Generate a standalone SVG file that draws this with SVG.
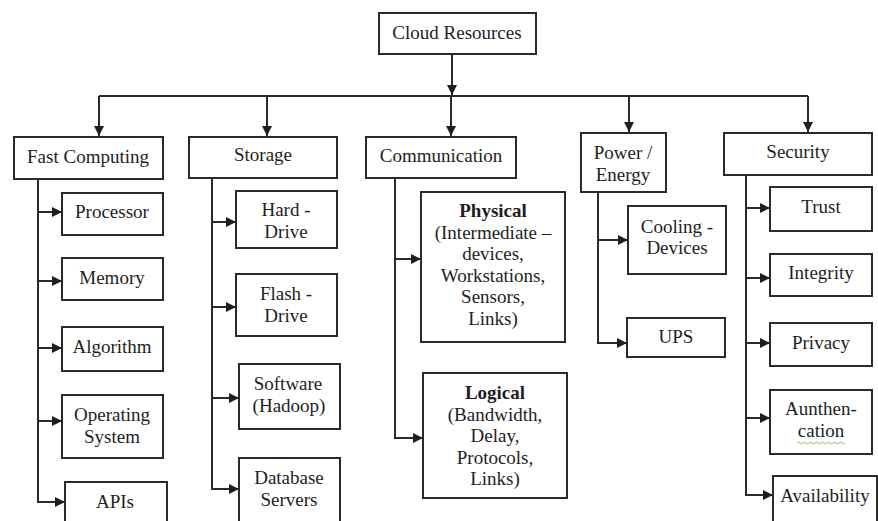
<svg xmlns="http://www.w3.org/2000/svg" width="878" height="521" viewBox="0 0 878 521">
  <defs>
    <marker id="arrow" viewBox="0 0 10 10" refX="10" refY="5" markerWidth="10" markerHeight="10" markerUnits="userSpaceOnUse" orient="auto">
      <path d="M0,0 L10,5 L0,10 Z" fill="#1e1e1e"/>
    </marker>
    <style>
      .box { fill: #ffffff; stroke: #2a2a2a; stroke-width: 2; }
      .lbl { font-family: "Liberation Serif", "Times New Roman", serif; font-size: 19px; fill: #1e1e1e; text-anchor: middle; }
      .b { font-weight: bold; }
      .wire { fill: none; stroke: #2a2a2a; stroke-width: 2; }
      .arr { fill: none; stroke: #2a2a2a; stroke-width: 2; marker-end: url(#arrow); }
      .squiggle { fill: none; stroke: #7fbf6a; stroke-width: 1; }
    </style>
  </defs>
  <rect width="878" height="521" fill="#ffffff"/>

  <!-- connectors -->
  <g id="connectors">
    <!-- root to bus -->
    <path class="arr" d="M452,54 V95"/>
    <path class="wire" d="M99,96 H808"/>
    <!-- bus to categories -->
    <path class="arr" d="M99,96 V136"/>
    <path class="arr" d="M267,96 V136"/>
    <path class="arr" d="M451,96 V136"/>
    <path class="arr" d="M629,96 V132"/>
    <path class="arr" d="M808,96 V132"/>

    <!-- Fast Computing branch -->
    <path class="wire" d="M38,179 V502"/>
    <path class="arr" d="M38,212 H62"/>
    <path class="arr" d="M38,281 H62"/>
    <path class="arr" d="M38,348 H62"/>
    <path class="arr" d="M38,421 H62"/>
    <path class="arr" d="M37,502 H65"/>

    <!-- Storage branch -->
    <path class="wire" d="M212,178 V489"/>
    <path class="arr" d="M212,222 H236"/>
    <path class="arr" d="M212,307 H236"/>
    <path class="arr" d="M212,398 H239"/>
    <path class="arr" d="M211,489 H239"/>

    <!-- Communication branch -->
    <path class="wire" d="M395,178 V438"/>
    <path class="arr" d="M395,259 H421"/>
    <path class="arr" d="M394,438 H423"/>

    <!-- Power / Energy branch -->
    <path class="wire" d="M598,192 V343"/>
    <path class="arr" d="M598,240 H628"/>
    <path class="arr" d="M597,343 H627"/>

    <!-- Security branch -->
    <path class="wire" d="M746,175 V495"/>
    <path class="arr" d="M746,208 H770"/>
    <path class="arr" d="M746,278 H770"/>
    <path class="arr" d="M746,343 H770"/>
    <path class="arr" d="M746,418 H770"/>
    <path class="arr" d="M745,495 H773"/>
  </g>

  <!-- root -->
  <g id="cloud-resources">
    <rect class="box" x="379" y="13" width="157" height="41"/>
    <text class="lbl" x="457" y="39">Cloud Resources</text>
  </g>

  <!-- categories -->
  <g id="fast-computing">
    <rect class="box" x="14" y="137" width="149" height="42"/>
    <text class="lbl" x="88" y="163">Fast Computing</text>
  </g>
  <g id="storage">
    <rect class="box" x="189" y="137" width="148" height="41"/>
    <text class="lbl" x="263" y="161">Storage</text>
  </g>
  <g id="communication">
    <rect class="box" x="366" y="137" width="150" height="41"/>
    <text class="lbl" x="441" y="162">Communication</text>
  </g>
  <g id="power-energy">
    <rect class="box" x="581" y="133" width="85" height="59"/>
    <text class="lbl" x="623" y="159">Power /</text>
    <text class="lbl" x="623" y="181">Energy</text>
  </g>
  <g id="security">
    <rect class="box" x="724" y="133" width="148" height="42"/>
    <text class="lbl" x="798" y="158">Security</text>
  </g>

  <!-- Fast Computing items -->
  <g id="processor">
    <rect class="box" x="62" y="193" width="101" height="42"/>
    <text class="lbl" x="112" y="218">Processor</text>
  </g>
  <g id="memory">
    <rect class="box" x="62" y="258" width="101" height="42"/>
    <text class="lbl" x="112" y="284">Memory</text>
  </g>
  <g id="algorithm">
    <rect class="box" x="62" y="327" width="101" height="44"/>
    <text class="lbl" x="112" y="353">Algorithm</text>
  </g>
  <g id="operating-system">
    <rect class="box" x="62" y="395" width="101" height="63"/>
    <text class="lbl" x="112" y="421">Operating</text>
    <text class="lbl" x="112" y="443">System</text>
  </g>
  <g id="apis">
    <rect class="box" x="65" y="482" width="102" height="50"/>
    <text class="lbl" x="115" y="508">APIs</text>
  </g>

  <!-- Storage items -->
  <g id="hard-drive">
    <rect class="box" x="236" y="191" width="101" height="57"/>
    <text class="lbl" x="286" y="216">Hard -</text>
    <text class="lbl" x="286" y="238">Drive</text>
  </g>
  <g id="flash-drive">
    <rect class="box" x="236" y="274" width="101" height="62"/>
    <text class="lbl" x="286" y="300">Flash -</text>
    <text class="lbl" x="286" y="322">Drive</text>
  </g>
  <g id="software-hadoop">
    <rect class="box" x="239" y="364" width="101" height="65"/>
    <text class="lbl" x="288" y="390">Software</text>
    <text class="lbl" x="289" y="412">(Hadoop)</text>
  </g>
  <g id="database-servers">
    <rect class="box" x="239" y="458" width="101" height="70"/>
    <text class="lbl" x="289" y="484">Database</text>
    <text class="lbl" x="289" y="506">Servers</text>
  </g>

  <!-- Communication items -->
  <g id="physical">
    <rect class="box" x="421" y="192" width="144" height="150"/>
    <text class="lbl b" x="493" y="217">Physical</text>
    <text class="lbl" x="493" y="239">(Intermediate –</text>
    <text class="lbl" x="493" y="260">devices,</text>
    <text class="lbl" x="493" y="282">Workstations,</text>
    <text class="lbl" x="493" y="303">Sensors,</text>
    <text class="lbl" x="493" y="325">Links)</text>
  </g>
  <g id="logical">
    <rect class="box" x="423" y="373" width="144" height="125"/>
    <text class="lbl b" x="495" y="399">Logical</text>
    <text class="lbl" x="495" y="421">(Bandwidth,</text>
    <text class="lbl" x="495" y="442">Delay,</text>
    <text class="lbl" x="495" y="464">Protocols,</text>
    <text class="lbl" x="495" y="485">Links)</text>
  </g>

  <!-- Power / Energy items -->
  <g id="cooling-devices">
    <rect class="box" x="628" y="206" width="98" height="68"/>
    <text class="lbl" x="677" y="233">Cooling -</text>
    <text class="lbl" x="677" y="254">Devices</text>
  </g>
  <g id="ups">
    <rect class="box" x="627" y="318" width="98" height="39"/>
    <text class="lbl" x="676" y="343">UPS</text>
  </g>

  <!-- Security items -->
  <g id="trust">
    <rect class="box" x="770" y="187" width="102" height="44"/>
    <text class="lbl" x="821" y="213">Trust</text>
  </g>
  <g id="integrity">
    <rect class="box" x="770" y="254" width="102" height="42"/>
    <text class="lbl" x="821" y="279">Integrity</text>
  </g>
  <g id="privacy">
    <rect class="box" x="770" y="323" width="102" height="43"/>
    <text class="lbl" x="821" y="349">Privacy</text>
  </g>
  <g id="authentication">
    <rect class="box" x="770" y="390" width="102" height="64"/>
    <text class="lbl" x="821" y="415">Aunthen-</text>
    <text class="lbl" x="821" y="437">cation</text>
    <path class="squiggle" d="M797,443 q1.5,-2 3,0 t3,0 t3,0 t3,0 t3,0 t3,0 t3,0 t3,0 t3,0 t3,0 t3,0 t3,0 t3,0 t3,0 t3,0 t3,0"/>
  </g>
  <g id="availability">
    <rect class="box" x="773" y="476" width="104" height="52"/>
    <text class="lbl" x="825" y="502">Availability</text>
  </g>
</svg>
